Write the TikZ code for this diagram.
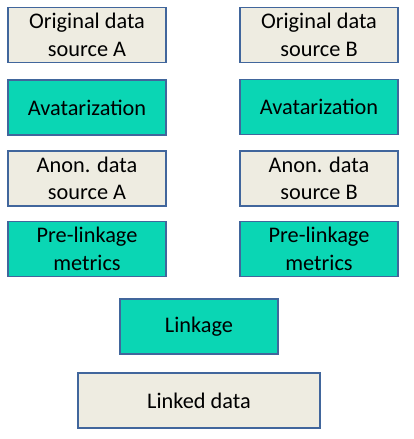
\documentclass[tikz,border=0pt]{standalone}
\usepackage{fontspec}
\setmainfont{Carlito}
\definecolor{boxline}{HTML}{41669C}
\definecolor{beige}{HTML}{EEECE1}
\definecolor{teal}{HTML}{0AD6B4}
\begin{document}
\begin{tikzpicture}[x=1pt,y=-1pt,
  base/.style={draw=boxline, line width=1.4pt, inner sep=0pt, align=center,
    font=\fontsize{22.3}{27.5}\selectfont, text=black},
  databox/.style={base, fill=beige},
  stepbox/.style={base, fill=teal}]
\useasboundingbox (0,0) rectangle (413,439);
\node[databox, minimum width=158pt, minimum height=55pt] (oa) at (87,35) {Original data\\source A};
\node[databox, minimum width=158pt, minimum height=55pt] (ob) at (319,35) {Original data\\source B};
\node[stepbox, minimum width=158pt, minimum height=55pt] (aa) at (87,107.5) {Avatarization};
\node[stepbox, minimum width=158pt, minimum height=55pt] (ab) at (319,107) {Avatarization};
\node[databox, minimum width=158pt, minimum height=55pt] (na) at (87,178.5) {Anon. data\\source A};
\node[databox, minimum width=158pt, minimum height=55pt] (nb) at (319,178.5) {Anon. data\\source B};
\node[stepbox, minimum width=158pt, minimum height=55pt] (pa) at (87,249) {Pre-linkage\\metrics};
\node[stepbox, minimum width=158pt, minimum height=55pt] (pb) at (319,249) {Pre-linkage\\metrics};
\node[stepbox, minimum width=158pt, minimum height=55pt] (lk) at (199,326.5) {Linkage};
\node[databox, minimum width=242pt, minimum height=55pt] (ld) at (199,400.5) {Linked data};
\end{tikzpicture}
\end{document}
